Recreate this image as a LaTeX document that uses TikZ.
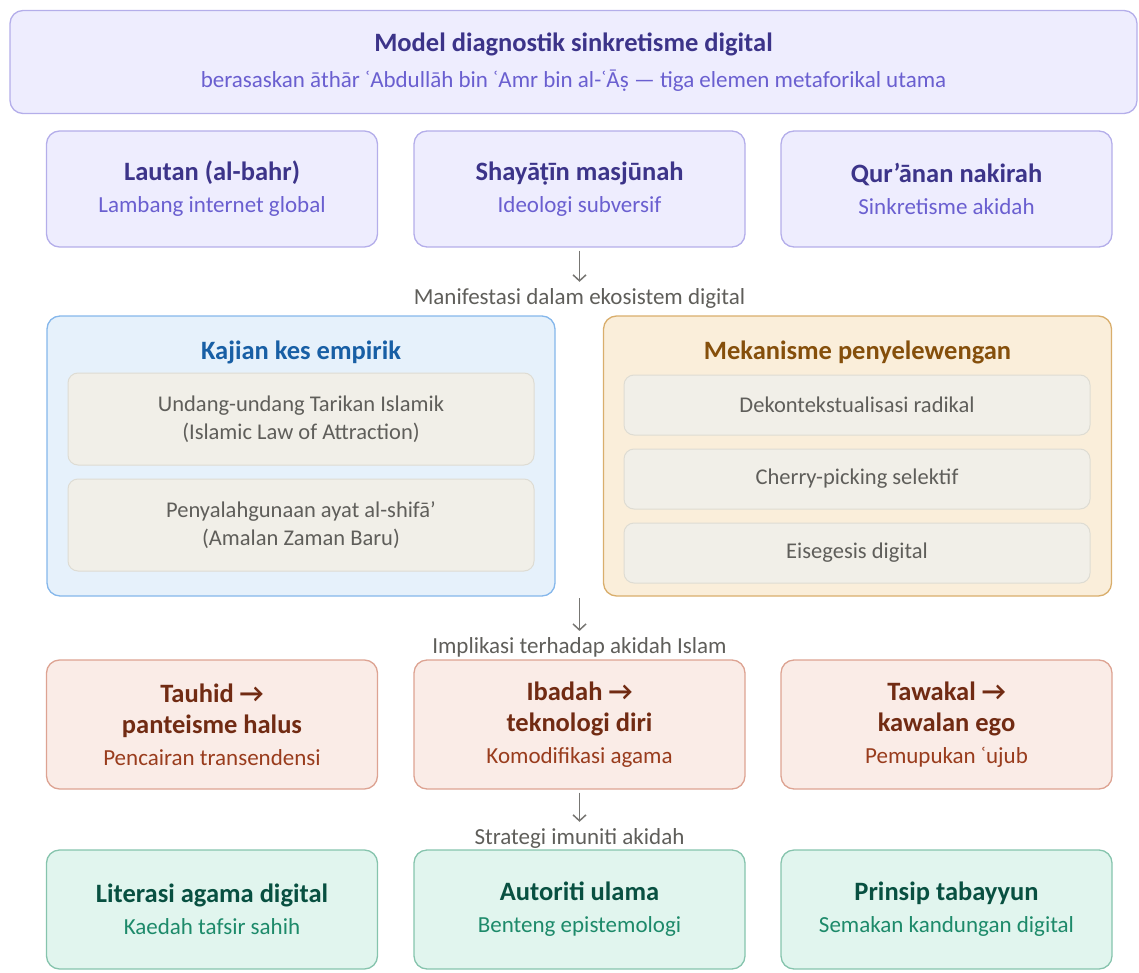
\documentclass[tikz,border=0pt]{standalone}
\usepackage{fontspec}
\setmainfont{Carlito}
\usetikzlibrary{arrows.meta}

\definecolor{purpfill}{HTML}{EEEDFE}
\definecolor{purpline}{HTML}{B4AEEA}
\definecolor{purptitle}{HTML}{3C3489}
\definecolor{purpsub}{HTML}{6A5FD0}
\definecolor{bluefill}{HTML}{E6F1FB}
\definecolor{blueline}{HTML}{85B7EB}
\definecolor{bluetitle}{HTML}{185FA5}
\definecolor{orfill}{HTML}{FAEEDA}
\definecolor{orline}{HTML}{D9AE6C}
\definecolor{ortitle}{HTML}{854F0B}
\definecolor{greyfill}{HTML}{F1EFE8}
\definecolor{greyline}{HTML}{DEDCD3}
\definecolor{greytext}{HTML}{5F5E5A}
\definecolor{pinkfill}{HTML}{FAECE7}
\definecolor{pinkline}{HTML}{DDA392}
\definecolor{pinktitle}{HTML}{712B13}
\definecolor{pinksub}{HTML}{993C1D}
\definecolor{grnfill}{HTML}{E1F5EE}
\definecolor{grnline}{HTML}{86C4AD}
\definecolor{grntitle}{HTML}{085041}
\definecolor{grnsub}{HTML}{1D8A6A}

\newcommand{\ttl}[2]{\textcolor{#1}{\fontsize{26.5}{32}\selectfont\bfseries #2}}

\begin{document}
\begin{tikzpicture}[
        x=1pt, y=1pt,
        card/.style={draw, rounded corners=13pt, line width=1.3pt, align=center,
            inner sep=0pt, minimum width=331pt, font=\fontsize{23}{32}\selectfont},
        purp/.style={card, fill=purpfill, draw=purpline, text=purpsub, minimum height=116pt},
        pink/.style={card, fill=pinkfill, draw=pinkline, text=pinksub, minimum height=129pt,
            font=\fontsize{23}{31.5}\selectfont},
        grn/.style={card, fill=grnfill, draw=grnline, text=grnsub, minimum height=119pt},
        panel/.style={draw, rounded corners=13pt, line width=1.3pt,
            minimum width=508pt, minimum height=280pt, inner sep=0pt},
        paneltitle/.style={font=\fontsize{26.5}{30}\selectfont\bfseries, inner sep=0pt},
        item/.style={draw=greyline, fill=greyfill, rounded corners=10pt, line width=1pt,
            minimum width=466pt, inner sep=0pt, align=center, text=greytext,
            font=\fontsize{22.5}{28}\selectfont},
        steplabel/.style={text=greytext, font=\fontsize{23}{26}\selectfont, inner sep=0pt},
        flow/.style={draw=greytext!85, line width=1.5pt, -{Straight Barb[length=6pt, width=13pt]}},
    ]
    \useasboundingbox (0,0) rectangle (1139,-973);

    % title
    \node[card, fill=purpfill, draw=purpline, text=purpsub, minimum width=1127pt, minimum height=103pt,
        font=\fontsize{23}{36}\selectfont] (head) at (573.5,-62)
        {\ttl{purptitle}{Model diagnostik sinkretisme digital}\\
         berasaskan āthār ʿAbdullāh bin ʿAmr bin al-ʿĀṣ — tiga elemen metaforikal utama};

    % three metaphors
    \node[purp] (bahr) at (212,-189)
        {\ttl{purptitle}{Lautan (al-bahr)}\\Lambang internet global};
    \node[purp] (shayatin) at (579.5,-189)
        {\ttl{purptitle}{Shayāṭīn masjūnah}\\Ideologi subversif};
    \node[purp] (quran) at (946.5,-189)
        {\ttl{purptitle}{Qur’ānan nakirah}\\Sinkretisme akidah};

    \node[steplabel] (manif) at (579.5,-298) {Manifestasi dalam ekosistem digital};

    % case studies
    \node[panel, fill=bluefill, draw=blueline] (kajian) at (301,-456) {};
    \node[paneltitle, text=bluetitle] (kajiantitle) at (301,-352) {Kajian kes empirik};
    \node[item, minimum height=92pt] (lawatt) at (301,-419)
        {Undang-undang Tarikan Islamik\\(Islamic Law of Attraction)};
    \node[item, minimum height=92pt] (shifa) at (301,-525)
        {Penyalahgunaan ayat al-shifā’\\(Amalan Zaman Baru)};

    % mechanisms
    \node[panel, fill=orfill, draw=orline] (mekanisme) at (857.5,-456) {};
    \node[paneltitle, text=ortitle] (mekanismetitle) at (857.5,-352) {Mekanisme penyelewengan};
    \node[item, minimum height=60pt] (dekon) at (857,-405) {Dekontekstualisasi radikal};
    \node[item, minimum height=60pt] (cherry) at (857,-479) {Cherry-picking selektif};
    \node[item, minimum height=60pt] (eisegesis) at (857,-553) {Eisegesis digital};

    \coordinate (gap) at (579.5,-598);
    \node[steplabel] (implik) at (579.5,-647) {Implikasi terhadap akidah Islam};

    % implications
    \node[pink] (tauhid) at (212,-724.5)
        {\ttl{pinktitle}{Tauhid →}\\\ttl{pinktitle}{panteisme halus}\\Pencairan transendensi};
    \node[pink] (ibadah) at (579.5,-724.5)
        {\ttl{pinktitle}{Ibadah →}\\\ttl{pinktitle}{teknologi diri}\\Komodifikasi agama};
    \node[pink] (tawakal) at (946.5,-724.5)
        {\ttl{pinktitle}{Tawakal →}\\\ttl{pinktitle}{kawalan ego}\\Pemupukan ʿujub};

    \node[steplabel] (strategi) at (579.5,-838) {Strategi imuniti akidah};

    % immunity strategies
    \node[grn] (literasi) at (212,-909.5)
        {\ttl{grntitle}{Literasi agama digital}\\Kaedah tafsir sahih};
    \node[grn] (autoriti) at (579.5,-909.5)
        {\ttl{grntitle}{Autoriti ulama}\\Benteng epistemologi};
    \node[grn] (tabayyun) at (946.5,-909.5)
        {\ttl{grntitle}{Prinsip tabayyun}\\Semakan kandungan digital};

    % flow
    \draw[flow] ([yshift=-3pt]shayatin.south) -- ([yshift=6pt]manif.north);
    \draw[flow] (gap) -- ([yshift=6pt]implik.north);
    \draw[flow] ([yshift=-3pt]ibadah.south) -- ([yshift=6pt]strategi.north);
\end{tikzpicture}
\end{document}
